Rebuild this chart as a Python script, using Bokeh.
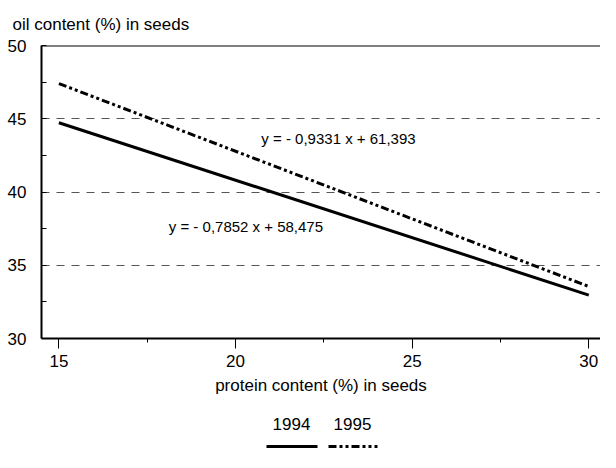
from bokeh.plotting import figure
from bokeh.models import Range1d, Label, Span, FixedTicker, SingleIntervalTicker
from bokeh.layouts import column
from bokeh.core.properties import value
from bokeh.embed import file_html
from bokeh.resources import INLINE

# ---- data ----
protein = [15, 30]
oil_1994 = [44.73, 32.96]
oil_1995 = [47.40, 33.55]
years = ["1994", "1995"]
eq_1994 = "y = - 0,7852 x + 58,475"
eq_1995 = "y = - 0,9331 x + 61,393"
y_title = "oil content (%) in seeds"
x_title = "protein content (%) in seeds"

FONT = "Liberation Sans"
DASH95 = "8 3 3 3 3 3"
LEFT = 41

p = figure(width=600, height=404, x_range=Range1d(14.507, 30.331), y_range=Range1d(30, 50),
           output_backend="svg", toolbar_location=None,
           min_border_left=LEFT, min_border_right=0, min_border_top=44, min_border_bottom=66)
p.outline_line_color = None
p.background_fill_color = "white"
p.border_fill_color = "white"

p.title.text = y_title
p.title.align = "left"
p.title.offset = -29
p.title.text_font = FONT
p.title.text_font_size = "17px"
p.title.text_font_style = "normal"
p.title.text_color = "black"
p.title.standoff = 24

p.xgrid.grid_line_color = None
p.ygrid.ticker = FixedTicker(ticks=[35, 40, 45])
p.ygrid.grid_line_color = "#555555"
p.ygrid.grid_line_dash = "8 7"
p.ygrid.grid_line_width = 1

p.xaxis.ticker = SingleIntervalTicker(interval=5, num_minor_ticks=2)
p.yaxis.ticker = SingleIntervalTicker(interval=5, num_minor_ticks=2)
for ax in (p.xaxis, p.yaxis):
    ax.axis_line_color = "black"
    ax.axis_line_width = 2
    ax.major_label_text_font = FONT
    ax.major_label_text_font_size = "17px"
    ax.major_label_text_color = "black"
    ax.minor_tick_line_color = "black"
    ax.major_tick_line_color = "black"

p.yaxis.major_tick_line_color = None
p.yaxis.minor_tick_in = 5
p.yaxis.minor_tick_out = 0
p.yaxis.major_label_standoff = 9

p.xaxis.major_tick_in = 0
p.xaxis.major_tick_out = 10
p.xaxis.minor_tick_in = 0
p.xaxis.minor_tick_out = 4
p.xaxis.major_label_standoff = 6
p.xaxis.axis_label = x_title
p.xaxis.axis_label_text_font = FONT
p.xaxis.axis_label_text_font_size = "17px"
p.xaxis.axis_label_text_font_style = "normal"
p.xaxis.axis_label_text_color = "black"
p.xaxis.axis_label_standoff = 6

p.add_layout(Span(location=50, dimension="width", line_color="black", line_width=2))

p.line(protein, oil_1994, line_color="black", line_width=3)
p.line(protein, oil_1995, line_color="black", line_width=3, line_dash=DASH95)

p.add_layout(Label(x=20.73, y=43.68, text=eq_1995, text_baseline="middle",
                   text_font=FONT, text_font_size="15px", text_color="black"))
p.add_layout(Label(x=18.11, y=37.67, text=eq_1994, text_baseline="middle",
                   text_font=FONT, text_font_size="15px", text_color="black"))

# legend (labels above line samples); frame aligned with main plot, data x = page x
leg = figure(width=600, height=48, x_range=Range1d(LEFT, 600), y_range=Range1d(0, 48),
             output_backend="svg", toolbar_location=None,
             x_axis_type=None, y_axis_type=None,
             min_border_left=LEFT, min_border_right=0, min_border_top=0, min_border_bottom=0)
leg.outline_line_color = None
leg.grid.visible = False
leg.text(x=[291, 352], y=[29, 29], text=years, text_align="center", text_baseline="middle",
         text_font=value(FONT), text_font_size="17px", text_color="black")
leg.line([266, 317], [6, 6], line_color="black", line_width=3)
leg.line([328, 377], [6, 6], line_color="black", line_width=3, line_dash=DASH95)

layout = column(p, leg, spacing=0)
open("out.html", "w").write(file_html(layout, INLINE))
